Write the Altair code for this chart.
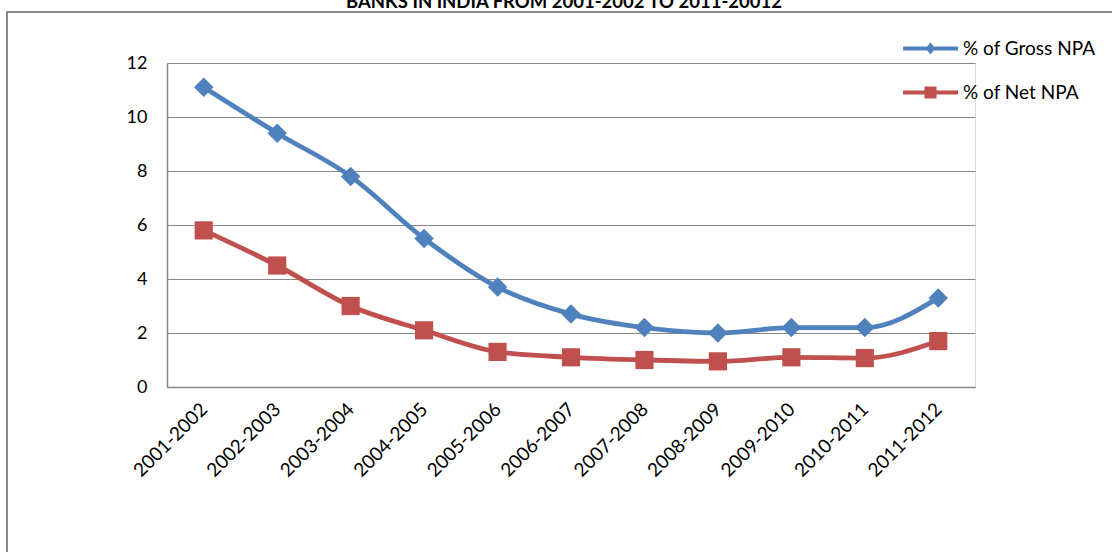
import altair as alt
import pandas as pd

periods = ["2001-2002", "2002-2003", "2003-2004", "2004-2005", "2005-2006", "2006-2007",
           "2007-2008", "2008-2009", "2009-2010", "2010-2011", "2011-2012"]
gross_npa = [11.1, 9.4, 7.8, 5.5, 3.7, 2.7, 2.2, 2.0, 2.2, 2.2, 3.3]
net_npa = [5.8, 4.5, 3.0, 2.1, 1.3, 1.1, 1.0, 0.95, 1.1, 1.07, 1.7]
series_names = ["% of Gross NPA", "% of Net NPA"]
colors = ["#4F81BD", "#C0504D"]
title_text = "BANKS IN INDIA FROM 2001-2002 TO 2011-20012"

n = len(periods)
df = pd.DataFrame({
    "period": periods * 2,
    "value": gross_npa + net_npa,
    "series": [series_names[0]] * n + [series_names[1]] * n,
})
df["legend_series"] = df["series"]

FONT = "Lato"
GRID = "#868686"

x_enc = alt.X("period:N", sort=periods, title=None,
              axis=alt.Axis(labelAngle=-45, labelAlign="right", labelBaseline="middle",
                            ticks=False, grid=False, domainColor=GRID, domainWidth=1.5,
                            labelPadding=19, labelFont=FONT, labelFontSize=19,
                            labelColor="#000000"))
y_enc = alt.Y("value:Q", title=None,
              scale=alt.Scale(domain=[0, 12], nice=False),
              axis=alt.Axis(values=[0, 2, 4, 6, 8, 10, 12], grid=True, gridColor=GRID,
                            gridWidth=1.2, ticks=False, domainColor=GRID, domainWidth=1.5,
                            labelPadding=20, labelFont=FONT, labelFontSize=18,
                            labelColor="#000000"))

color_scale = alt.Scale(domain=series_names, range=colors)

lines = alt.Chart(df).mark_line(interpolate="monotone", strokeWidth=4.8).encode(
    x=x_enc, y=y_enc,
    color=alt.Color("series:N", scale=color_scale, legend=None),
)

points = alt.Chart(df).mark_point(filled=True, opacity=1).encode(
    x=x_enc, y=y_enc,
    color=alt.Color("series:N", scale=color_scale, legend=None),
    shape=alt.Shape("series:N", scale=alt.Scale(domain=series_names, range=["diamond", "square"]), legend=None),
    size=alt.Size("series:N", scale=alt.Scale(domain=series_names, range=[380, 330]), legend=None),
)

gross_sym = ("M-1,-0.073 L-0.12,-0.073 L0,-0.22 L0.12,-0.073 L1,-0.073 L1,0.073 "
             "L0.12,0.073 L0,0.22 L-0.12,0.073 L-1,0.073 Z")
net_sym = ("M-1,-0.073 L-0.22,-0.073 L-0.22,-0.22 L0.22,-0.22 L0.22,-0.073 L1,-0.073 "
           "L1,0.073 L0.22,0.073 L0.22,0.22 L-0.22,0.22 L-0.22,0.073 L-1,0.073 Z")

legend_cfg = alt.Legend(title=None, orient="none", legendX=736, legendY=-42,
                        labelFont=FONT, labelFontSize=19, labelColor="#000000",
                        symbolSize=3025, symbolStrokeWidth=0, labelOffset=5,
                        rowPadding=6, padding=0)

legend_layer = alt.Chart(df).transform_filter("false").mark_point(filled=True, opacity=1).encode(
    x=x_enc, y=y_enc,
    color=alt.Color("legend_series:N", scale=alt.Scale(domain=series_names, range=colors), legend=legend_cfg),
    shape=alt.Shape("legend_series:N", scale=alt.Scale(domain=series_names, range=[gross_sym, net_sym]), legend=legend_cfg),
)

border = alt.Chart(pd.DataFrame({"k": [0]})).mark_rect(
    fillOpacity=0, stroke="#8a8a8a", strokeWidth=2
).encode(x=alt.value(-160), x2=alt.value(960), y=alt.value(-51), y2=alt.value(500))

title_mark = alt.Chart(pd.DataFrame({"t": [title_text]})).mark_text(
    font=FONT, fontSize=18.5, fontWeight="bold", color="#000000",
    align="center", baseline="alphabetic"
).encode(text="t:N", x=alt.value(397), y=alt.value(-55))

chart = alt.layer(border, lines, points, legend_layer, title_mark).resolve_scale(
    color="independent", shape="independent", size="independent"
).properties(
    width=808, height=324,
    autosize=alt.AutoSizeParams(type="none"),
    padding={"left": 167, "top": 63, "right": 137, "bottom": 165},
).configure_view(stroke=None).configure(background="#ffffff")

chart.save("out.html", embed_options={"renderer": "svg", "actions": False})
